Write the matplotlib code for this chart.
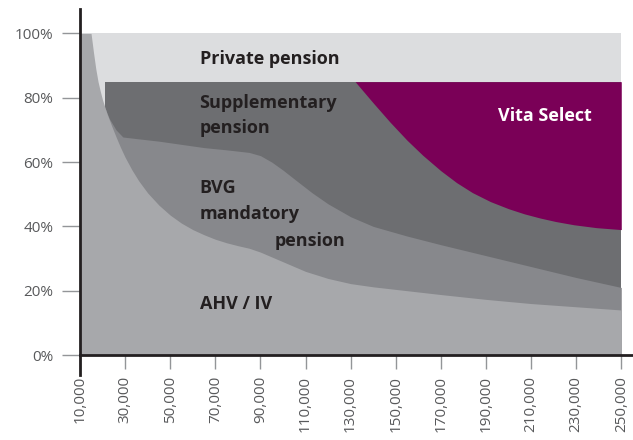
import numpy as np
import matplotlib.pyplot as plt

# Income on the x axis, share of last salary (%) on the y axis
x_ticks = [10000, 30000, 50000, 70000, 90000, 110000, 130000,
           150000, 170000, 190000, 210000, 230000, 250000]
y_ticks = [0, 20, 40, 60, 80, 100]

# AHV / IV top edge
ahv_x = [10000, 14900, 16000, 17000, 18000, 19000, 20000, 22000, 24000, 26000,
         28000, 30000, 33000, 36000, 40000, 45000, 50000, 55000, 60000, 65000,
         70000, 75000, 80000, 85000, 90000, 100000, 110000, 120000, 130000,
         140000, 155000, 170000, 190000, 210000, 230000, 250000]
ahv_y = [100, 100, 94, 89, 85, 82, 79.3, 75, 71.3, 67.8,
         64.5, 61.5, 57.6, 54.2, 50.4, 46.6, 43.5, 41, 39, 37.4,
         36, 34.9, 34, 33.2, 32, 29, 26, 23.8, 22.2,
         21.2, 20, 18.8, 17.3, 16, 15, 14]

# BVG mandatory pension top edge
bvg_x = [21000, 23000, 26000, 29000, 35000, 45000, 55000, 65000, 75000, 85000,
         90000, 95000, 100000, 106000, 113000, 120000, 130000, 140000, 155000,
         170000, 190000, 210000, 230000, 250000]
bvg_y = [77, 73.5, 70, 67.8, 67.3, 66.5, 65.5, 64.5, 63.8, 63,
         62, 60, 57.5, 54.2, 50.4, 47, 43, 40, 37,
         34.3, 30.9, 27.5, 24.1, 21]

# Supplementary pension (up to 85 %)
supp_x = [21000, 250000]
supp_y = [85, 85]

# Vita Select lower edge (upper edge is 85 %)
vita_x = [132000, 140000, 147500, 155000, 162000, 170000, 177000, 184000, 192000,
          200000, 207000, 214000, 221000, 229000, 239000, 250000]
vita_y = [85, 78.4, 72.4, 66.8, 62.1, 57.3, 53.6, 50.5, 47.7,
          45.5, 43.9, 42.6, 41.5, 40.5, 39.6, 39]

c_private = '#dcdddf'
c_supp = '#6d6e71'
c_bvg = '#87888c'
c_ahv = '#a7a8ab'
c_vita = '#7a0057'
c_text = '#231f20'

fig = plt.figure(figsize=(6.33, 4.4), dpi=100)
ax = fig.add_axes([80/633, 85/440, 553/633, 346/440])

ax.fill_between([10000, 250000], 0, 100, color=c_private, lw=0)
ax.fill_between(supp_x, 0, supp_y, color=c_supp, lw=0)
ax.fill_between(vita_x, vita_y, 85, color=c_vita, lw=0)
ax.fill_between(bvg_x, 0, bvg_y, color=c_bvg, lw=0)
ax.fill_between(ahv_x, 0, ahv_y, color=c_ahv, lw=0)

ax.set_xlim(10000, 255200)
ax.set_ylim(0, 107.6)

ax.set_xticks(x_ticks)
ax.set_xticklabels(['{:,}'.format(v) for v in x_ticks], rotation=90)
ax.set_yticks(y_ticks)
ax.set_yticklabels(['{}%'.format(v) for v in y_ticks])

for lab in ax.get_xticklabels() + ax.get_yticklabels():
    lab.set_family('Open Sans')
    lab.set_fontsize(11)
    lab.set_color('#58595b')

ax.tick_params(axis='y', length=13, width=1, color='#939598', pad=6)
ax.tick_params(axis='x', length=10, width=1, color='#939598', pad=5)

for s in ['top', 'right']:
    ax.spines[s].set_visible(False)
for s in ['left', 'bottom']:
    ax.spines[s].set_color(c_text)
    ax.spines[s].set_linewidth(2)
    ax.spines[s].set_zorder(5)
ax.plot([10000, 10000], [-6.2, 0], color=c_text, lw=2, clip_on=False, zorder=5)

font = dict(family='Open Sans', weight='bold', fontsize=13, color=c_text, va='center')
ax.text(63000, 92.2, 'Private pension', **font)
ax.text(63000, 78.4, 'Supplementary', **font)
ax.text(63000, 70.6, 'pension', **font)
ax.text(63000, 52.0, 'BVG', **font)
ax.text(63000, 43.9, 'mandatory', **font)
ax.text(96500, 35.5, 'pension', **font)
ax.text(63000, 16.0, 'AHV / IV', **font)
ax.text(216200, 74.2, 'Vita Select', family='Open Sans', weight='bold', fontsize=13,
        color='white', va='center', ha='center')

fig.savefig('out.png', dpi=100)
